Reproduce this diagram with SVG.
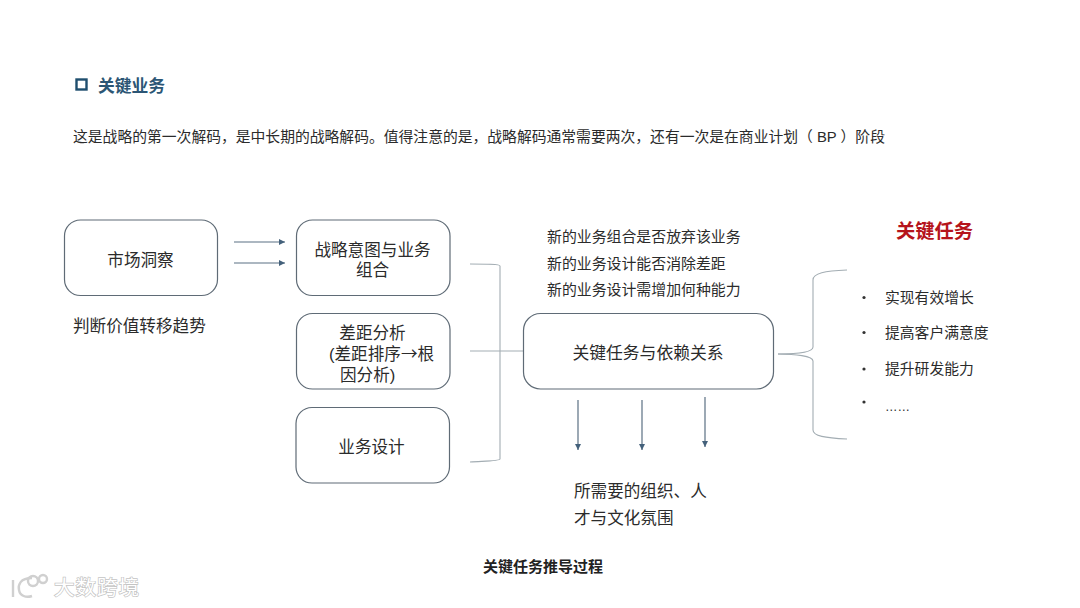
<svg xmlns="http://www.w3.org/2000/svg" width="1080" height="608" viewBox="0 0 1080 608">
<style>
text{font-family:"Liberation Sans","Noto Sans CJK SC",sans-serif;fill:#2b2b2b;font-size:16.600px}
.c{text-anchor:middle}
.box{fill:#fff;stroke:#5f6b76;stroke-width:1.200}
.ln{fill:none;stroke:#a3adb3;stroke-width:1.100}
.ar{fill:none;stroke:#5b7083;stroke-width:1.200;marker-end:url(#ah)}
.s{font-size:14.800px}
.q{font-size:14.900px}
.wm{font-size:20.500px;fill:#fff;stroke:#c4c4c4;stroke-width:1.400;paint-order:stroke;letter-spacing:1px}
.lg{fill:none;stroke:#d0d0d0;stroke-width:2.400}
</style>
<defs>
<marker id="ah" markerUnits="userSpaceOnUse" markerWidth="7" markerHeight="7" refX="6" refY="3" orient="auto"><path d="M0 0L6 3L0 6Z" fill="#44617b"/></marker>
</defs>
<rect width="1080" height="608" fill="#fff"/>
<g id="heading">
<rect x="76.500" y="79.500" width="10" height="10" fill="none" stroke="#1f4e6e" stroke-width="2.400"/>
<text x="98" y="92" font-weight="700" style="fill:#2c5675;font-size:16.800px">关键业务</text>
</g>
<text id="intro" x="73" y="142" style="font-size:14.800px">这是战略的第一次解码，是中长期的战略解码。值得注意的是，战略解码通常需要两次，还有一次是在商业计划（ BP ）阶段</text>
<g id="connectors">
<path class="ar" d="M234 242H285"/>
<path class="ar" d="M234 263H285"/>
<path class="ln" d="M470 264C485 264 500 264 500 266V459C500 461 485 461 470 462"/>
<path class="ln" d="M470 351H524"/>
<path class="ar" d="M578 400V450"/>
<path class="ar" d="M642 400V450"/>
<path class="ar" d="M705 397V447"/>
<path class="ln" d="M778 354C795 354 813 353 813 347V280C813 273 825 271 847 270"/>
<path class="ln" d="M778 354C795 354 813 356 813 361V430C813 436 825 438 847 439"/>
</g>
<g id="n1"><rect class="box" x="64.500" y="220" width="153" height="75.500" rx="16"/><text class="c" x="140.500" y="266">市场洞察</text></g>
<text id="n1-note" x="73" y="332">判断价值转移趋势</text>
<g id="n2"><rect class="box" x="296.500" y="220" width="153.500" height="75.500" rx="16"/><text class="c" x="372.500" y="256">战略意图与业务</text><text class="c" x="372.500" y="276">组合</text></g>
<g id="n3"><rect class="box" x="296.500" y="313.500" width="153.500" height="75.500" rx="16"/><text class="c" x="372.500" y="339">差距分析</text><text x="329" y="360">(差距排序<tspan font-family="Noto Sans CJK SC">→</tspan>根</text><text x="340" y="381">因分析)</text></g>
<g id="n4"><rect class="box" x="296" y="407.500" width="153.500" height="75.500" rx="16"/><text class="c" x="371.500" y="453">业务设计</text></g>
<g id="n5"><rect class="box" x="523.500" y="313.500" width="250" height="75.500" rx="17"/><text class="c" x="648" y="359" style="font-size:16.800px">关键任务与依赖关系</text></g>
<g id="questions">
<text x="547" y="242" class="q">新的业务组合是否放弃该业务</text>
<text x="547" y="269" class="q">新的业务设计能否消除差距</text>
<text x="547" y="295" class="q">新的业务设计需增加何种能力</text>
</g>
<g id="needs"><text x="574" y="497">所需要的组织、人</text><text x="574" y="524">才与文化氛围</text></g>
<text id="key-title" x="896" y="238" font-weight="700" style="fill:#b5141c;font-size:19.300px">关键任务</text>
<g id="tasks">
<circle cx="864" cy="297.500" r="1.600" fill="#333"/><text x="885" y="303" class="s">实现有效增长</text>
<circle cx="864" cy="332.500" r="1.600" fill="#333"/><text x="885" y="338" class="s">提高客户满意度</text>
<circle cx="864" cy="369" r="1.600" fill="#333"/><text x="885" y="374" class="s">提升研发能力</text>
<circle cx="864" cy="402" r="1.600" fill="#333"/><text x="885" y="411" class="s" style="font-size:12.500px">……</text>
</g>
<text id="caption" class="c" x="543" y="571.500" font-weight="700" style="font-size:15px;fill:#222">关键任务推导过程</text>
<g id="watermark">
<path class="lg" d="M13 580V597M32 578C20 578 18 585 19 590C20 596 26 598 32 596"/>
<circle class="lg" cx="33" cy="581" r="5"/><circle class="lg" cx="43" cy="579" r="4"/>
<text class="wm" x="54" y="595">大数跨境</text>
</g>
</svg>
